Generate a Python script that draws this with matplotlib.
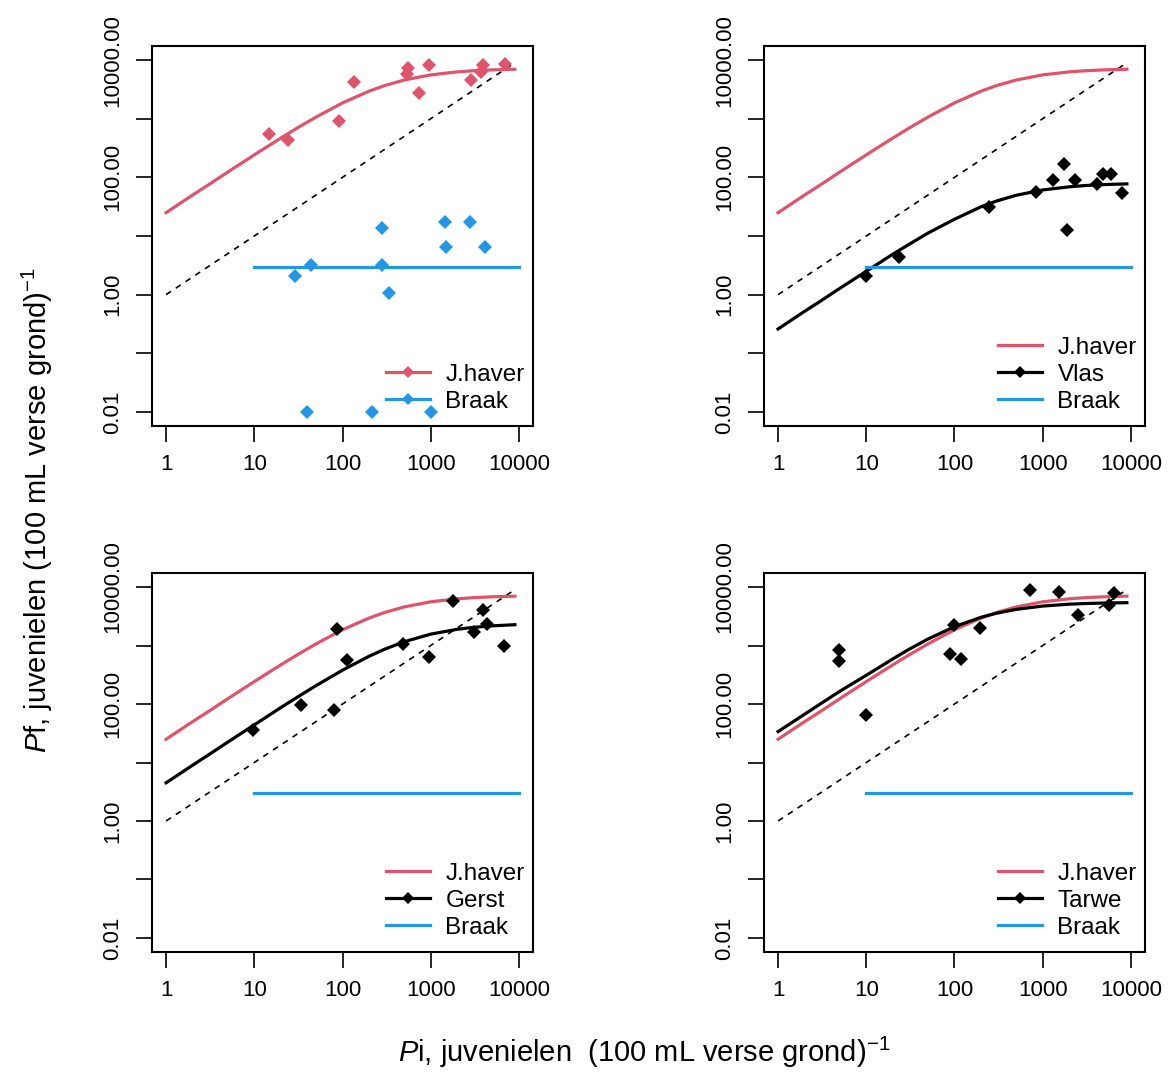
import numpy as np
import matplotlib
matplotlib.use("Agg")
import matplotlib.pyplot as plt
from matplotlib.lines import Line2D

plt.rcParams['font.family'] = ['Liberation Sans', 'DejaVu Sans']
plt.rcParams['mathtext.fontset'] = 'custom'
plt.rcParams['mathtext.rm'] = 'Liberation Sans'
plt.rcParams['mathtext.it'] = 'Liberation Sans:italic'

RED = "#DF536B"
BLUE = "#2297E6"

# ------------------------
# model curves
curve_x = [1, 2, 3, 5, 10, 20, 30, 50, 100, 200, 300, 500, 1000, 2000, 3000, 5000, 9000]
jhaver_y = [25, 50, 74, 123, 242, 468, 680, 1065, 1860, 2950, 3670, 4570, 5590, 6290, 6570, 6810, 6980]
vlas_y = [0.26, 0.52, 0.77, 1.28, 2.5, 4.9, 7.1, 11.2, 19.3, 31.5, 39.5, 49.5, 61, 69, 72.5, 75.4, 77.4]
gerst_y = [4.5, 9.0, 13.4, 22.3, 44, 87, 128, 206, 379, 655, 864, 1160, 1565, 1895, 2040, 2170, 2270]
tarwe_y = [33.8, 67, 100, 165, 310, 590, 850, 1290, 2100, 3040, 3570, 4150, 4730, 5090, 5220, 5330, 5400]

braak_x = [10, 10000]
braak_y = [3, 3]
diag_x = [1, 9000]

# ------------------------
# observed points
jhaver_px = [14.6, 24, 92, 135, 540, 557, 740, 960, 2900, 3700, 3950, 7000]
jhaver_py = [540, 436, 925, 4200, 5800, 7200, 2700, 8200, 4560, 6300, 8400, 8600]

braak_px = [29, 44, 278, 278, 340, 1445, 1510, 2760, 4100, 40, 215, 1000]
braak_py = [2.1, 3.2, 13.5, 3.2, 1.06, 17, 6.5, 17, 6.5, 0.01, 0.01, 0.01]

vlas_px = [9.8, 23.5, 243, 841, 1324, 1766, 1875, 2350, 4100, 4790, 5950, 7950]
vlas_py = [2.1, 4.4, 31.6, 57, 90, 167, 12.6, 90, 77, 115, 115, 54]

gerst_px = [9.7, 34, 80, 86, 112, 480, 960, 1770, 3100, 3950, 4300, 6800]
gerst_py = [36, 98, 80, 1890, 556, 1070, 630, 5690, 1700, 4000, 2300, 1000]

tarwe_px = [4.9, 4.9, 9.8, 88, 119, 100, 197, 720, 1515, 2490, 5690, 6460]
tarwe_py = [824, 541, 66, 725, 594, 2210, 1990, 9000, 8220, 3370, 4860, 7890]

x_ticks = [1, 10, 100, 1000, 10000]
y_ticks = [0.01, 0.1, 1, 10, 100, 1000, 10000]
y_ticklabels = ["0.01", "", "1.00", "", "100.00", "", "10000.00"]

# ------------------------
fig = plt.figure(figsize=(11.68, 10.72), dpi=100)
W, H = 1168, 1072

def make_ax(left, top, right, bottom):
    return fig.add_axes([left / W, 1 - bottom / H, (right - left) / W, (bottom - top) / H])

axes = [make_ax(152, 46, 533, 426), make_ax(764, 46, 1145, 426),
        make_ax(152, 573, 533, 952), make_ax(764, 573, 1145, 952)]

panels = [
    (None, None, None, None),
    ("Vlas", vlas_y, vlas_px, vlas_py),
    ("Gerst", gerst_y, gerst_px, gerst_py),
    ("Tarwe", tarwe_y, tarwe_px, tarwe_py),
]

for i, ax in enumerate(axes):
    name, cy, px, py = panels[i]
    ax.set_xscale("log")
    ax.set_yscale("log")
    lx = np.log10(1), np.log10(10000)
    ly = np.log10(0.01), np.log10(10000)
    ax.set_xlim(10 ** (lx[0] - 0.04 * 4), 10 ** (lx[1] + 0.04 * 4))
    ax.set_ylim(10 ** (ly[0] - 0.04 * 6), 10 ** (ly[1] + 0.04 * 6))

    ax.plot(curve_x, jhaver_y, color=RED, lw=2.3, zorder=3)
    if name is not None:
        ax.plot(curve_x, cy, color="black", lw=2.3, zorder=3)
    ax.plot(braak_x, braak_y, color=BLUE, lw=2.3, zorder=3)
    ax.plot(diag_x, diag_x, color="black", lw=1.2, ls=(0, (3.5, 3.5)), zorder=2)

    handles = []
    if name is None:
        ax.plot(jhaver_px, jhaver_py, ls="none", marker="D", ms=7.5, mew=0, color=RED, zorder=4)
        ax.plot(braak_px, braak_py, ls="none", marker="D", ms=7.5, mew=0, color=BLUE, zorder=4)
        handles = [Line2D([], [], color=RED, lw=2.3, marker="D", ms=6, mew=0, label="J.haver"),
                   Line2D([], [], color=BLUE, lw=2.3, marker="D", ms=6, mew=0, label="Braak")]
    else:
        ax.plot(px, py, ls="none", marker="D", ms=7.5, mew=0, color="black", zorder=4)
        handles = [Line2D([], [], color=RED, lw=2.3, label="J.haver"),
                   Line2D([], [], color="black", lw=2.3, marker="D", ms=6, mew=0, label=name),
                   Line2D([], [], color=BLUE, lw=2.3, label="Braak")]

    ax.legend(handles=handles, loc="lower right", bbox_to_anchor=(1 - 1 / 381, 6 / 380),
              frameon=False, fontsize=17.5,
              handlelength=1.8, handletextpad=0.65, labelspacing=0.2,
              borderaxespad=0, borderpad=0.3)

    ax.set_xticks(x_ticks)
    ax.set_xticklabels([str(v) for v in x_ticks])
    ax.set_yticks(y_ticks)
    ax.set_yticklabels(y_ticklabels, rotation=90, va="center")
    ax.minorticks_off()
    ax.tick_params(axis="both", direction="out", length=11.5, width=1.2, labelsize=16, pad=9)
    for s in ax.spines.values():
        s.set_linewidth(1.5)

fig.text(37 / W, 1 - 510 / H,
         r"$\mathit{P}$f, juvenielen $\left(\mathrm{100\ mL\ verse\ grond}\right)^{-1}$",
         rotation=90, ha="center", va="center", fontsize=21)
fig.text(644 / W, 1 - 1052 / H,
         r"$\mathit{P}$i, juvenielen  (100 mL verse grond)$^{-1}$",
         ha="center", va="center", fontsize=21)

fig.savefig("out.png", dpi=100)
